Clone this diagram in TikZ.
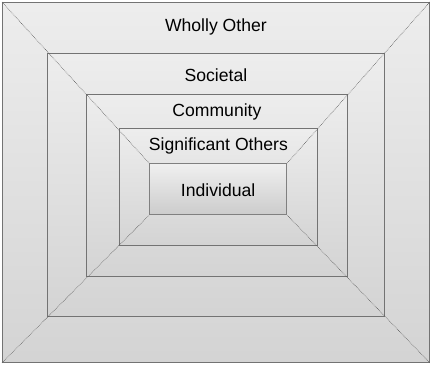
\documentclass[tikz,border=0pt]{standalone}
\usepackage{fontspec}
\setmainfont{Liberation Sans}
\usetikzlibrary{positioning}

\tikzset{
  ring/.style={rectangle, anchor=north west, inner sep=0pt, draw=black!55, line width=0.8pt,
    top color=black!7, bottom color=black!17},
  core/.style={ring, draw=black!50, line width=1.3pt, top color=black!6, bottom color=black!20},
  ringtext/.style={font=\fontsize{17.6}{20}\selectfont, text=black, inner sep=0pt},
  corner/.style={draw=black!65, line width=0.6pt, densely dotted}
}

\begin{document}
\begin{tikzpicture}[x=1pt,y=-1pt]
\useasboundingbox (0,0) rectangle (430,364);
% nested levels, outermost first
\node[ring, minimum width=427pt, minimum height=360pt] (wholly) at (2,2) {};
\node[ring, minimum width=337pt, minimum height=263pt] (societal) at (47,53) {};
\node[ring, minimum width=261pt, minimum height=182pt] (community) at (86,94) {};
\node[ring, minimum width=198pt, minimum height=117pt] (significant) at (119,128) {};
\node[core, minimum width=137pt, minimum height=51pt] (individual) at (149,163) {};

% corner lines
\foreach \c in {north west, north east, south west, south east}
  \draw[corner] (wholly.\c) -- (individual.\c);

% labels
\node[ringtext] (whollytext) at ([yshift=-24.5pt]wholly.north) {Wholly Other};
\node[ringtext] (societaltext) at ([yshift=-22.5pt]societal.north) {Societal};
\node[ringtext] (communitytext) at ([yshift=-17.5pt]community.north) {Community};
\node[ringtext] (significanttext) at ([yshift=-17.5pt]significant.north) {Significant Others};
\node[ringtext] (individualtext) at ([yshift=-1pt]individual.center) {Individual};
\end{tikzpicture}
\end{document}
